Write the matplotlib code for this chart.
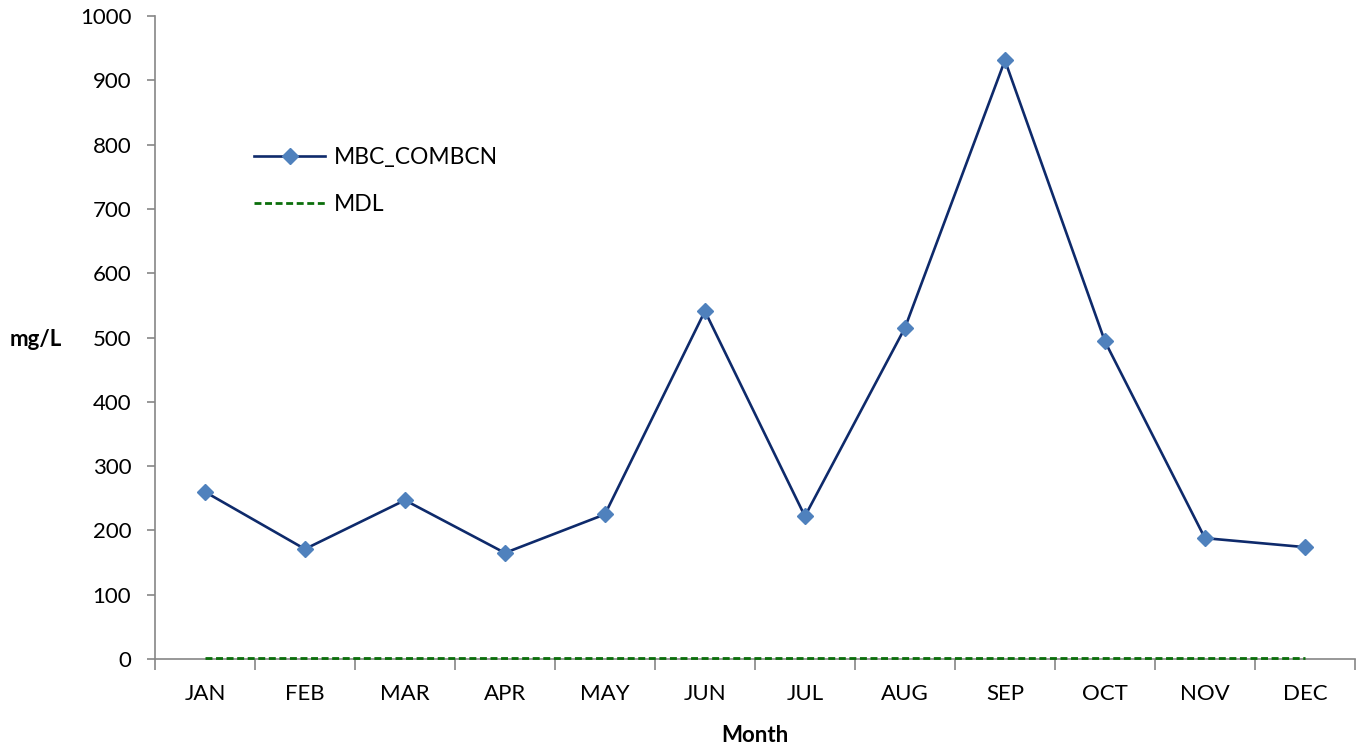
import matplotlib
matplotlib.use("Agg")
import matplotlib.pyplot as plt
import numpy as np

months = ["JAN", "FEB", "MAR", "APR", "MAY", "JUN", "JUL", "AUG", "SEP", "OCT", "NOV", "DEC"]
mbc_combcn = [260, 171, 247, 165, 225, 541, 222, 515, 931, 494, 188, 174]
mdl = [2] * 12
y_ticks = [0, 100, 200, 300, 400, 500, 600, 700, 800, 900, 1000]

plt.rcParams["font.family"] = ["Lato", "DejaVu Sans"]

fig = plt.figure(figsize=(13.59, 7.5), dpi=100)
ax = fig.add_axes([0.114, 0.1213, 0.883, 0.8574])

x = np.arange(len(months))
ax.plot(x, mbc_combcn, color="#0E2A6B", linewidth=1.9, marker="D", markersize=8,
        markerfacecolor="#4F81BD", markeredgecolor="#4F81BD", label="MBC_COMBCN", zorder=4)
ax.plot(x, mdl, color="#0A6E0A", linewidth=2.0, linestyle=(0, (2.5, 1.3)), label="MDL",
        zorder=3, clip_on=False)

ax.set_xlim(-0.5, len(months) - 0.5)
ax.set_ylim(0, 1000)
ax.set_yticks(y_ticks)
ax.set_yticklabels([str(v) for v in y_ticks], fontsize=16)

# tick marks sit between categories, labels sit at category centres
ax.set_xticks(np.arange(-0.5, len(months) + 0.5, 1))
ax.set_xticklabels([])
ax.set_xticks(x, minor=True)
ax.set_xticklabels(months, minor=True, fontsize=16)
ax.tick_params(axis="x", which="major", length=8, width=1.2, color="#868686", direction="out")
ax.tick_params(axis="x", which="minor", length=0, pad=18)
ax.tick_params(axis="y", length=6, width=1.2, color="#868686", direction="out", pad=11)

for side in ["top", "right"]:
    ax.spines[side].set_visible(False)
for side in ["left", "bottom"]:
    ax.spines[side].set_color("#868686")
    ax.spines[side].set_linewidth(1.2)
    ax.spines[side].set_zorder(2)

ax.set_xlabel("Month", fontsize=16, fontweight="bold", labelpad=15)
fig.text(0.026, 0.547, "mg/L", fontsize=16, fontweight="bold", ha="center", va="center")

leg = ax.legend(loc="upper left", bbox_to_anchor=(0.075, 0.81), frameon=False, fontsize=16.5,
                handlelength=3.1, handletextpad=0.4, labelspacing=1.1, borderaxespad=0)

fig.savefig("out.png", dpi=100)
